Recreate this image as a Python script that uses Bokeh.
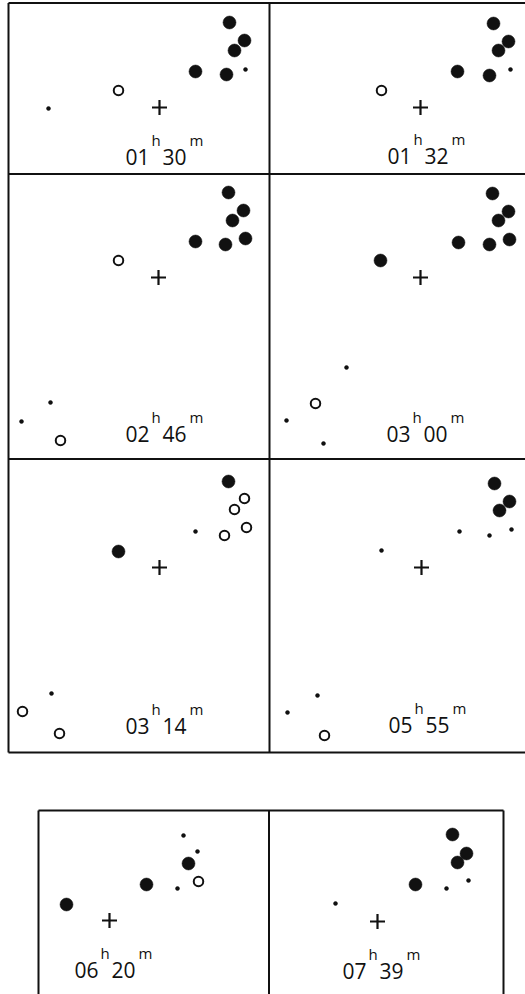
from bokeh.plotting import figure
from bokeh.models import Range1d
from bokeh.core.properties import value
from bokeh.embed import file_html
from bokeh.resources import INLINE

# ---------------- data (offsets from the cross, arbitrary sky units, y up) ----------------
hours = ["01", "01", "02", "03", "03", "05", "06", "07"]
minutes = ["30", "32", "46", "00", "14", "55", "20", "39"]

filled_frame = [0, 0, 0, 0, 0,
                1, 1, 1, 1, 1,
                2, 2, 2, 2, 2, 2,
                3, 3, 3, 3, 3, 3, 3,
                4, 4,
                5, 5, 5,
                6, 6, 6,
                7, 7, 7, 7]
filled_dx = [70, 85, 75, 36, 67,
             73, 88, 78, 37, 69,
             70, 85, 74, 37, 67, 87,
             72, 88, 78, 38, 69, 89, -40,
             69, -41,
             73, 88, 78,
             -43, 37, 79,
             75, 89, 80, 38]
filled_dy = [85, 67, 57, 36, 33,
             84, 66, 57, 36, 32,
             85, 67, 57, 36, 33, 39,
             84, 66, 57, 35, 33, 38, 17,
             86, 16,
             84, 66, 57,
             16, 36, 57,
             87, 68, 59, 37]

open_frame = [0, 1, 2, 2, 3, 4, 4, 4, 4, 4, 4, 5, 6]
open_dx = [-41, -39, -40, -98, -105, 85, 75, 87, 65, -137, -100, -97, 89]
open_dy = [17, 17, 17, -163, -126, 69, 58, 40, 32, -144, -166, -168, 39]

dot_frame = [0, 0, 1, 2, 2, 3, 3, 3, 4, 4, 5, 5, 5, 5, 5, 5, 6, 6, 6, 7, 7, 7]
dot_dx = [86, -111, 90, -108, -137, -74, -134, -97, 36, -108,
          38, 68, 90, -40, -104, -134, 74, 88, 68, 69, 91, -42]
dot_dy = [38, -1, 38, -125, -144, -90, -143, -166, 36, -126,
          36, 32, 38, 17, -128, -145, 85, 69, 32, 33, 41, 18]

# ---------------- layout (pixel positions of each panel's cross and label) ----------------
W, H = 525, 994
cross_px = [159, 420, 158, 420, 159, 421, 109, 377]
cross_py = [107, 107, 277, 277, 567, 567, 920, 921]
label_dx = [-34, -33, -33, -34, -34, -33, -35, -35]
label_dy = [49, 48, 156, 156, 158, 157, 49, 49]

p = figure(width=W, height=H, output_backend="svg", toolbar_location=None,
           x_range=Range1d(0, W), y_range=Range1d(H, 0),
           min_border=0, min_border_left=0, min_border_right=0,
           min_border_top=0, min_border_bottom=0)
p.axis.visible = False
p.grid.visible = False
p.outline_line_color = None
p.background_fill_color = "white"
p.border_fill_color = "white"

ink = "#111111"

# panel frames
top_h = [(8, 525, 2.5), (8, 525, 173.5), (8, 525, 458.5), (8, 525, 752)]
top_v = [(8, 2.5, 752), (269, 2.5, 752)]
bot_h = [(38, 503, 810)]
bot_v = [(38, 810, H), (268.5, 810, H), (503, 810, H)]
hx0 = [a for a, b, c in top_h + bot_h]
hx1 = [b for a, b, c in top_h + bot_h]
hy = [c for a, b, c in top_h + bot_h]
p.segment(x0=hx0, y0=hy, x1=hx1, y1=hy, line_color=ink, line_width=2)
vx = [a for a, b, c in top_v + bot_v]
vy0 = [b for a, b, c in top_v + bot_v]
vy1 = [c for a, b, c in top_v + bot_v]
p.segment(x0=vx, y0=vy0, x1=vx, y1=vy1, line_color=ink, line_width=2)

# crosses
p.scatter(x=cross_px, y=cross_py, marker="cross", size=15, line_width=2.2, line_color=ink)

def place(frames, dx, dy):
    xs = [cross_px[f] + a for f, a in zip(frames, dx)]
    ys = [cross_py[f] - b for f, b in zip(frames, dy)]
    return xs, ys

fx, fy = place(filled_frame, filled_dx, filled_dy)
p.scatter(x=fx, y=fy, size=13, fill_color=ink, line_color=ink, line_width=0.5)

ox, oy = place(open_frame, open_dx, open_dy)
p.scatter(x=ox, y=oy, size=9.5, fill_color="white", line_color=ink, line_width=2)

dx_, dy_ = place(dot_frame, dot_dx, dot_dy)
p.scatter(x=dx_, y=dy_, size=4, fill_color=ink, line_color=ink, line_width=0.5)

# labels like 01^h 30^m
lx = [c + d for c, d in zip(cross_px, label_dx)]
ly = [c + d for c, d in zip(cross_py, label_dy)]
ly_sup = [y - 17 for y in ly]
font = value("Open Sans")
common = dict(text_font=font, text_color=ink, text_align="left", text_baseline="alphabetic")
p.text(x=lx, y=ly, text=hours, x_offset=0, text_font_size="21px", **common)
p.text(x=lx, y=ly_sup, text=["h"] * len(hours), x_offset=26, text_font_size="15px", **common)
p.text(x=lx, y=ly, text=minutes, x_offset=37, text_font_size="21px", **common)
p.text(x=lx, y=ly_sup, text=["m"] * len(hours), x_offset=64, text_font_size="15px", **common)

open("out.html", "w").write(file_html(p, INLINE))
